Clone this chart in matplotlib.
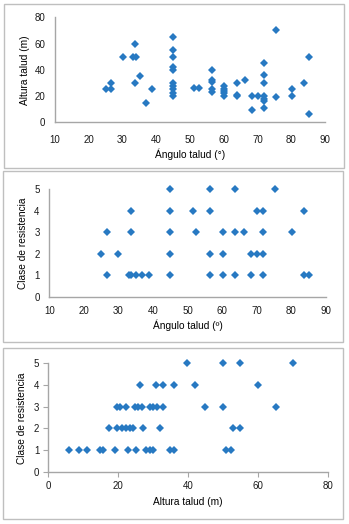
import matplotlib
matplotlib.use("Agg")
import matplotlib.pyplot as plt
from matplotlib.patches import Rectangle

# Panel 1: slope angle vs slope height
angle_p1 = [25, 26.6, 26.6, 30, 33, 34, 33.8, 33.7, 35.2, 37, 38.8,
            45, 45, 45, 45, 45, 45, 45, 45, 45, 45,
            51.2, 52.8,
            56.4, 56.4, 56.4, 56.4, 56.4,
            60.2, 60.2, 60.2, 60.2, 60.2,
            63.8, 63.8, 63.8,
            66.3, 68.5, 68.5, 70.2,
            71.9, 71.9, 71.9, 71.9, 71.9, 71.9, 71.9,
            75.4, 75.4, 80.3, 80.3, 83.8, 85.3, 85.3]
height_p1 = [25, 25, 30, 50, 50, 50, 60, 30, 35, 15, 25,
             65, 55, 50, 42, 40, 30, 28, 25, 22, 20,
             26.5, 26,
             40, 32, 31, 25, 23,
             28, 25, 24, 22, 20,
             30, 21, 20,
             32, 20, 9, 20,
             45, 36, 30, 20, 18, 16, 11,
             70, 19, 25, 20, 30, 50, 6]

# Panel 2: slope angle vs resistance class
angle_p2 = [45, 56.4, 63.6, 75.3,
            33.6, 45, 51.5, 56.4, 70, 71.8, 83.7,
            26.6, 33.6, 45, 52.5, 60.1, 63.6, 66.2, 71.8, 80.3,
            24.9, 29.9, 45, 56.4, 60.1, 68.3, 70, 71.8,
            26.6, 32.9, 33.6, 35, 36.9, 38.7, 45, 56.4, 60.1, 63.6, 68.3, 71.8, 83.7, 85.2]
class_p2 = [5, 5, 5, 5,
            4, 4, 4, 4, 4, 4, 4,
            3, 3, 3, 3, 3, 3, 3, 3, 3,
            2, 2, 2, 2, 2, 2, 2, 2,
            1, 1, 1, 1, 1, 1, 1, 1, 1, 1, 1, 1, 1, 1]

# Panel 3: slope height vs resistance class
height_p3 = [39.7, 49.8, 54.8, 70,
             26.2, 30.8, 32.9, 35.9, 41.9, 59.8,
             19.7, 20.6, 22.2, 24.8, 25.7, 26.7, 29.1, 30, 31, 32.9, 44.8, 49.8, 65,
             17.3, 19.7, 21, 22.2, 23.3, 24.3, 27, 31.9, 52.9, 54.8,
             6, 8.9, 11, 14.8, 15.7, 19.1, 22.9, 25, 27.9, 29.1, 30, 34.8, 35.9, 50.8, 52.1]
class_p3 = [5, 5, 5, 5,
            4, 4, 4, 4, 4, 4,
            3, 3, 3, 3, 3, 3, 3, 3, 3, 3, 3, 3, 3,
            2, 2, 2, 2, 2, 2, 2, 2, 2, 2,
            1, 1, 1, 1, 1, 1, 1, 1, 1, 1, 1, 1, 1, 1, 1]

W, H = 349, 524
plt.rcParams['font.family'] = ['Liberation Sans', 'DejaVu Sans']
fig = plt.figure(figsize=(W / 100, H / 100), dpi=100)

BLUE = '#2779C2'
SPINE = '#A6A6A6'
BOX = '#BFBFBF'
TICK_FS = 7
LABEL_FS = 7.3


def fx(px):
    return px / W


def fy(py):
    return 1 - py / H


def add_axes(left, right, top, bottom):
    return fig.add_axes([fx(left), fy(bottom), fx(right) - fx(left), fy(top) - fy(bottom)])


def style(ax, ticks):
    for s in ('top', 'right'):
        ax.spines[s].set_visible(False)
    for s in ('left', 'bottom'):
        ax.spines[s].set_color(SPINE)
        ax.spines[s].set_linewidth(1.0)
    if ticks:
        ax.tick_params(axis='both', length=3.5, width=0.8, color=SPINE, direction='out',
                       labelsize=TICK_FS, pad=3, labelcolor='#1a1a1a')
    else:
        ax.tick_params(axis='both', length=0, labelsize=TICK_FS, labelcolor='#1a1a1a')
        ax.tick_params(axis='y', pad=7)
        ax.tick_params(axis='x', pad=9)


# panel boxes
for (x0, y0, x1, y1) in [(4, 4, 344, 168), (3, 171, 343, 342), (3, 348, 343, 519)]:
    fig.add_artist(Rectangle((fx(x0), fy(y1)), fx(x1) - fx(x0), fy(y0) - fy(y1),
                             transform=fig.transFigure, fill=False,
                             edgecolor=BOX, linewidth=1.0))

ms = 4.4

# Panel 1
ax1 = add_axes(55, 325, 17.3, 122.3)
ax1.plot(angle_p1, height_p1, 'D', color=BLUE, ms=ms, mew=0, clip_on=False)
ax1.set_xlim(10, 90)
ax1.set_ylim(0, 80)
ax1.set_xticks(range(10, 91, 10))
ax1.set_yticks(range(0, 81, 20))
style(ax1, False)
fig.text(fx(25), fy(70), 'Altura talud (m)', rotation=90, ha='center', va='center', fontsize=LABEL_FS)
fig.text(fx(190), fy(154), 'Ángulo talud (°)', ha='center', va='center', fontsize=LABEL_FS)

# Panel 2
ax2 = add_axes(49.3, 326, 189, 296.7)
ax2.plot(angle_p2, class_p2, 'D', color=BLUE, ms=ms, mew=0, clip_on=False)
ax2.set_xlim(10, 90)
ax2.set_ylim(0, 5)
ax2.set_xticks(range(10, 91, 10))
ax2.set_yticks(range(0, 6))
style(ax2, False)
ax2.tick_params(axis='x', pad=7)
fig.text(fx(23), fy(243), 'Clase de resistencia', rotation=90, ha='center', va='center', fontsize=LABEL_FS)
fig.text(fx(188), fy(325.7), 'Ángulo talud (º)', ha='center', va='center', fontsize=LABEL_FS)

# Panel 3
ax3 = add_axes(48.3, 328.3, 362.7, 472.3)
ax3.plot(height_p3, class_p3, 'D', color=BLUE, ms=ms, mew=0, clip_on=False)
ax3.set_xlim(0, 80)
ax3.set_ylim(0, 5)
ax3.set_xticks(range(0, 81, 20))
ax3.set_yticks(range(0, 6))
style(ax3, True)
fig.text(fx(22), fy(418), 'Clase de resistencia', rotation=90, ha='center', va='center', fontsize=LABEL_FS)
fig.text(fx(188), fy(501.7), 'Altura talud (m)', ha='center', va='center', fontsize=LABEL_FS)

fig.savefig('out.png', dpi=100)
